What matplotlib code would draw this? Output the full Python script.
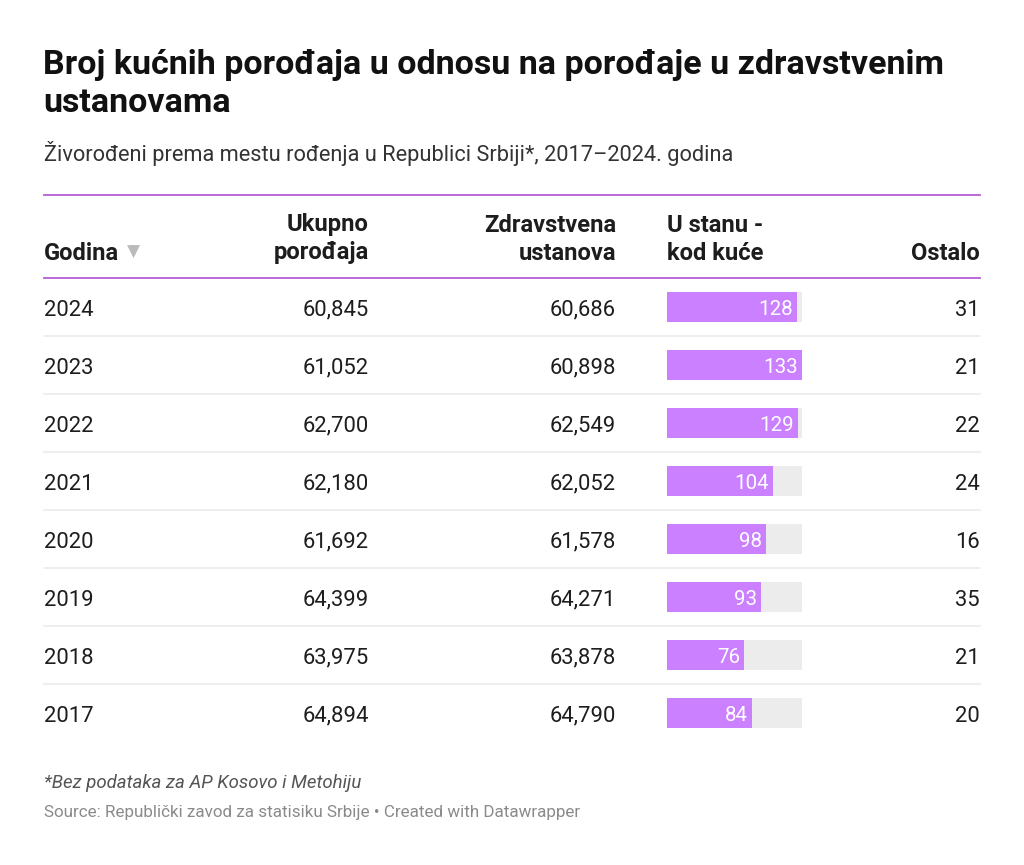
import matplotlib.pyplot as plt

plt.rcParams["font.family"] = ["Roboto", "DejaVu Sans"]

TITLE = ["Broj kućnih porođaja u odnosu na porođaje u zdravstvenim", "ustanovama"]
SUBTITLE = "Živorođeni prema mestu rođenja u Republici Srbiji*, 2017–2024. godina"
NOTE = "*Bez podataka za AP Kosovo i Metohiju"
SOURCE = "Source: Republički zavod za statisiku Srbije • Created with Datawrapper"

headers = [["Godina"], ["Ukupno", "porođaja"], ["Zdravstvena", "ustanova"],
           ["U stanu -", "kod kuće"], ["Ostalo"]]

years = [2024, 2023, 2022, 2021, 2020, 2019, 2018, 2017]
total = [60845, 61052, 62700, 62180, 61692, 64399, 63975, 64894]
facility = [60686, 60898, 62549, 62052, 61578, 64271, 63878, 64790]
home = [128, 133, 129, 104, 98, 93, 76, 84]
other = [31, 21, 22, 24, 16, 35, 21, 20]

PURPLE_LINE = "#b35fd1"
BAR_COLOR = "#cb80ff"
BAR_BG = "#ececec"
TEXT = "#1d1d1d"

W, H = 1024, 865
fig = plt.figure(figsize=(W / 100, H / 100), dpi=100)
ax = fig.add_axes([0, 0, 1, 1])
ax.set_xlim(0, W)
ax.set_ylim(H, 0)
ax.axis("off")


def pt(px):
    return px * 72 / 100


# title block
for k, line in enumerate(TITLE):
    ax.text(43, 65 + 38 * k, line, fontsize=pt(34), fontweight="bold", color="#111111",
            va="center", ha="left")
ax.text(44, 153, SUBTITLE, fontsize=pt(21.8), color="#333333", va="center", ha="left")

# table geometry
left, right = 44, 980
bar_left, bar_right = 667, 802
head_top, head_bottom = 195, 278
row_h = 58
dy = 3  # text optical offset

ax.plot([left, right], [head_top, head_top], color=PURPLE_LINE, lw=1.3)
ax.plot([left, right], [head_bottom, head_bottom], color=PURPLE_LINE, lw=1.3)

# header cells: x anchor, alignment
head_x = [(left, "left"), (369, "right"), (616, "right"), (bar_left, "left"), (980, "right")]
hfs = pt(23.8)
for (hx, ha), lines in zip(head_x, headers):
    start = 250 + dy - 28 * (len(lines) - 1)
    for k, line in enumerate(lines):
        ax.text(hx, start + 28 * k, line, fontsize=hfs, fontweight="bold", color=TEXT,
                va="center", ha=ha)
ax.text(127, 252, "▼", fontsize=pt(17), color="#bbbbbb", va="center", ha="left")

bfs = pt(22)
n = len(years)
for i in range(n):
    yc = head_bottom + row_h * (i + 0.5) + dy
    ax.text(left, yc, str(years[i]), fontsize=bfs, color=TEXT, va="center", ha="left")
    ax.text(369, yc, f"{total[i]:,}", fontsize=bfs, color=TEXT, va="center", ha="right")
    ax.text(616, yc, f"{facility[i]:,}", fontsize=bfs, color=TEXT, va="center", ha="right")
    ax.text(980, yc, str(other[i]), fontsize=bfs, color=TEXT, va="center", ha="right")
    if i < n - 1:
        yb = head_bottom + row_h * (i + 1)
        ax.plot([left, right], [yb, yb], color="#ebebeb", lw=1.2)

# bar column: its own axes with a data scale
bx = fig.add_axes([bar_left / W, 1 - (head_bottom + row_h * n) / H,
                   (bar_right - bar_left) / W, row_h * n / H])
bx.set_xlim(0, max(home))
bx.set_ylim(n, 0)
bx.axis("off")
rows = [i + 0.5 for i in range(n)]
bx.barh(rows, [max(home)] * n, height=30 / row_h, color=BAR_BG, left=0)
bx.barh(rows, home, height=30 / row_h, color=BAR_COLOR)
for r, v in zip(rows, home):
    bx.annotate(str(v), (v, r), xytext=(-3, -2), textcoords="offset points",
                ha="right", va="center", color="white", fontsize=pt(20.5))

# footer
ax.text(44, 783, NOTE, fontsize=pt(18.7), style="italic", color="#555555", va="center", ha="left")
ax.text(44, 812, SOURCE, fontsize=pt(17), color="#8a8a8a", va="center", ha="left")

fig.savefig("out.png", dpi=100)
